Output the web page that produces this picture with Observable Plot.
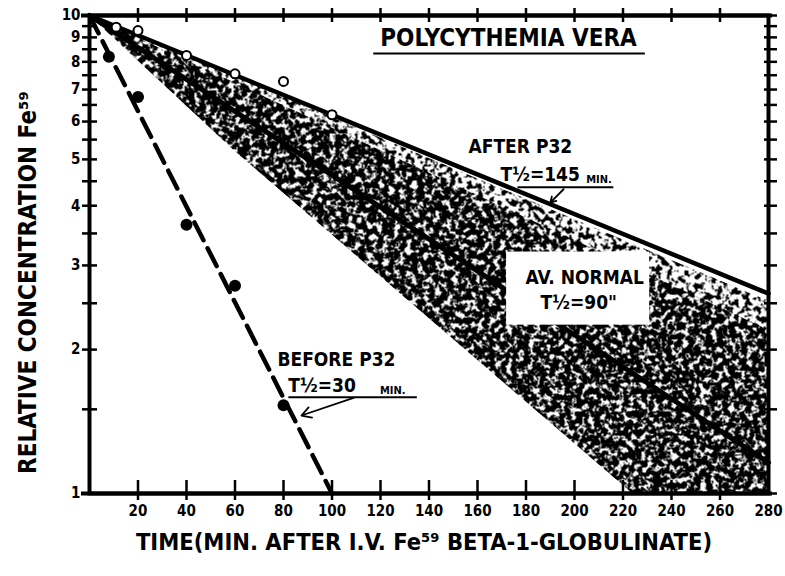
<!DOCTYPE html>
<html><head><meta charset="utf-8">
<script src="https://cdn.jsdelivr.net/npm/d3@7"></script>
<script src="https://cdn.jsdelivr.net/npm/@observablehq/plot@0.6"></script>
<style>
html,body{margin:0;padding:0;background:#fff;}
#chart svg{display:block;}
</style>
</head><body>
<svg width="0" height="0" style="position:absolute">
  <defs>
    <filter id="noiseLight" x="0" y="0" width="1" height="1">
      <feTurbulence type="fractalNoise" baseFrequency="0.18" numOctaves="3" seed="7"/>
      <feColorMatrix type="matrix" values="0 0 0 0 0  0 0 0 0 0  0 0 0 0 0  -18 0 0 0 8.9"/>
    </filter>
    <filter id="noiseDense" x="0" y="0" width="1" height="1">
      <feTurbulence type="fractalNoise" baseFrequency="0.17" numOctaves="3" seed="13"/>
      <feColorMatrix type="matrix" values="0 0 0 0 0  0 0 0 0 0  0 0 0 0 0  -18 0 0 0 9.8"/>
    </filter>
    <pattern id="stipLight" patternUnits="userSpaceOnUse" width="785" height="576">
      <rect width="785" height="576" fill="#000" filter="url(#noiseLight)"/>
    </pattern>
    <pattern id="stipDense" patternUnits="userSpaceOnUse" width="785" height="576">
      <rect width="785" height="576" fill="#000" filter="url(#noiseDense)"/>
    </pattern>
  </defs>
</svg>
<div id="chart"></div>
<script>
// ---- data ----
const beforeTimes = [8, 20, 40, 60, 80];
const beforeValues = [8.2, 6.75, 3.65, 2.72, 1.53];
const afterTimes = [11, 20, 40, 60, 80, 100];
const afterValues = [9.45, 9.3, 8.25, 7.55, 7.28, 6.2];

const beforeFitTimes = [0, 100];
const beforeFitValues = [10, 1];
const afterFitTimes = [0, 280];
const afterFitValues = [10, 2.62];
const normalFitTimes = [0, 280];
const normalFitValues = [10, 1.16];

// normal range (stippled band) outline
const bandTimes = [0, 280, 280, 224, 60];
const bandValues = [10, 2.53, 1, 1, 5.2];
// denser inner part of the band
const denseTimes = [0, 280, 280, 224, 60];
const denseValues = [10, 2.2, 1, 1, 5.2];

const xTickLabels = [20, 40, 60, 80, 100, 120, 140, 160, 180, 200, 220, 240, 260, 280];
const xMinorTicks = [20, 40, 60, 80, 100, 120, 140, 160, 180, 200, 220, 240, 260];
const yTickLabels = [1, 2, 3, 4, 5, 6, 7, 8, 9, 10];
const yMinorTicks = [1, 1.5, 2, 2.5, 3, 3.5, 4, 4.5, 5, 5.5, 6, 6.5, 7, 7.5, 8, 8.5, 9, 9.5, 10];

const title = "POLYCYTHEMIA VERA";
const xTitle = "TIME(MIN. AFTER I.V. Fe⁵⁹ BETA-1-GLOBULINATE)";
const yTitle = "RELATIVE CONCENTRATION Fe⁵⁹";

// annotations (data coordinates: minutes, relative concentration)
const bigNotes = [
  {t: 156.3, c: 5.30, text: "AFTER P32"},
  {t: 169.5, c: 4.64, text: "T½=145"},
  {t: 179.8, c: 2.82, text: "AV. NORMAL"},
  {t: 186.0, c: 2.50, text: "T½=90\""},
  {t: 77.5, c: 1.90, text: "BEFORE P32"},
  {t: 82.0, c: 1.68, text: "T½=30"}
];
const smallNotes = [
  {t: 204.8, c: 4.53, text: "MIN."},
  {t: 119.8, c: 1.64, text: "MIN."}
];
const underlines = [
  {t1: 117, t2: 229, c: 8.33},
  {t1: 176.5, t2: 216, c: 4.37},
  {t1: 82, t2: 135, c: 1.59}
];
const arrows = [
  {t1: 195.5, c1: 4.33, t2: 190, c2: 4.06},
  {t1: 108.9, c1: 1.585, t2: 87.4, c2: 1.456}
];
const labelBox = [{t1: 172, t2: 231, c1: 2.25, c2: 3.2}];

// ---- build tables ----
const zip = (ts, cs) => ts.map((t, i) => ({t, c: cs[i]}));
const before = zip(beforeTimes, beforeValues);
const after = zip(afterTimes, afterValues);
const beforeFit = zip(beforeFitTimes, beforeFitValues);
const afterFit = zip(afterFitTimes, afterFitValues);
const normalFit = zip(normalFitTimes, normalFitValues);
const band = zip(bandTimes, bandValues);
const dense = zip(denseTimes, denseValues);

const W = 785, H = 576, mL = 89, mR = 17, mT = 15, mB = 83;
const pw = W - mL - mR, ph = H - mT - mB;
const FONT = "'DejaVu Sans Condensed', 'DejaVu Sans', sans-serif";

const chart = Plot.plot({
  width: W, height: H,
  marginLeft: mL, marginRight: mR, marginTop: mT, marginBottom: mB,
  style: {fontFamily: FONT, background: "#fff", color: "#000", overflow: "visible"},
  x: {domain: [0, 280], axis: null},
  y: {type: "log", domain: [1, 10], axis: null},
  marks: [
    Plot.line(band, {x: "t", y: "c", fill: "url(#stipLight)", stroke: "none", curve: "linear-closed"}),
    Plot.line(dense, {x: "t", y: "c", fill: "url(#stipDense)", stroke: "none", curve: "linear-closed"}),
    Plot.line(normalFit, {x: "t", y: "c", stroke: "#000", strokeWidth: 5}),
    Plot.rect(labelBox, {x1: "t1", x2: "t2", y1: "c1", y2: "c2", fill: "#fff"}),
    Plot.line(afterFit, {x: "t", y: "c", stroke: "#000", strokeWidth: 4.5}),
    Plot.line(beforeFit, {x: "t", y: "c", stroke: "#000", strokeWidth: 4.5, strokeDasharray: "20,9"}),
    Plot.dot(before, {x: "t", y: "c", r: 6, fill: "#000", stroke: "none"}),
    Plot.dot(after, {x: "t", y: "c", r: 4.5, fill: "#fff", stroke: "#000", strokeWidth: 2}),
    // frame
    Plot.frame({stroke: "#000", strokeWidth: 4}),
    // ticks
    Plot.ruleX(xMinorTicks, {x: d => d, stroke: "#000", strokeWidth: 2.5, insetTop: ph - 13, insetBottom: -7}),
    Plot.ruleX(xMinorTicks, {x: d => d, stroke: "#000", strokeWidth: 2.5, insetTop: -7, insetBottom: ph - 7}),
    Plot.ruleY(yMinorTicks, {y: d => d, stroke: "#000", strokeWidth: 2.5, insetLeft: -7, insetRight: pw - 8}),
    Plot.ruleY(yMinorTicks, {y: d => d, stroke: "#000", strokeWidth: 2.5, insetLeft: pw - 4, insetRight: -9}),
    Plot.ruleY([1, 10], {y: d => d, stroke: "#000", strokeWidth: 4, insetLeft: -8, insetRight: -4}),
    // tick labels
    Plot.text(xTickLabels, {x: d => d, text: d => String(d), frameAnchor: "bottom", dy: 22, fontSize: 15, fontWeight: "bold"}),
    Plot.text(yTickLabels, {y: d => d, text: d => String(d), frameAnchor: "left", dx: -9, textAnchor: "end", fontSize: 15, fontWeight: "bold"}),
    // axis titles
    Plot.text([xTitle], {text: d => d, frameAnchor: "bottom", dy: 56, dx: -5, fontSize: 23.5, fontWeight: "bold"}),
    Plot.text([yTitle], {text: d => d, frameAnchor: "left", textAnchor: "middle", dx: -61, dy: 28, rotate: -90, fontSize: 24, fontWeight: "bold"}),
    // title
    Plot.text([title], {x: () => 172.8, y: () => 8.95, text: d => d, fontSize: 24, fontWeight: "bold"}),
    // annotations
    Plot.text(bigNotes, {x: "t", y: "c", text: "text", textAnchor: "start", fontSize: 19, fontWeight: "bold"}),
    Plot.text(smallNotes, {x: "t", y: "c", text: "text", textAnchor: "start", fontSize: 11, fontWeight: "bold"}),
    Plot.link(underlines, {x1: "t1", x2: "t2", y1: "c", y2: "c", stroke: "#000", strokeWidth: 2}),
    Plot.arrow(arrows, {x1: "t1", y1: "c1", x2: "t2", y2: "c2", stroke: "#000", strokeWidth: 1.8, headLength: 9})
  ]
});
document.getElementById("chart").appendChild(chart);
</script>
</body></html>
